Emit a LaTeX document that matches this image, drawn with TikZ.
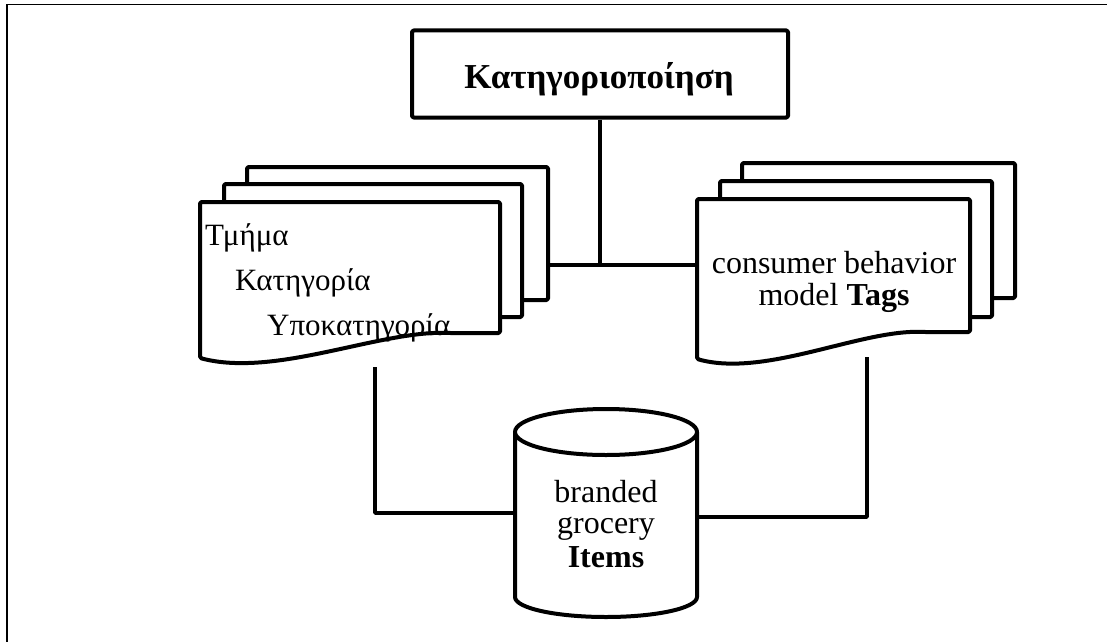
\documentclass[tikz,border=0pt]{standalone}
\usepackage{fontspec}
\setmainfont{Liberation Serif}
\begin{document}
\begin{tikzpicture}[x=1pt,y=-1pt,line join=round,
  shp/.style={line width=4pt,draw=black,fill=white,rounded corners=1.5pt},
  conn/.style={line width=3.5pt},
  txt/.style={font=\fontsize{31}{33}\selectfont,inner sep=0pt},
  etxt/.style={font=\fontsize{32}{34}\selectfont,inner sep=0pt}]
\useasboundingbox (0,0) rectangle (1107,642);
% frame
\draw[line width=2pt] (7,5) -- (7,642);
\draw[line width=1pt] (6,5) -- (1107,5);
% top box
\node[shp,minimum width=376pt,minimum height=87pt,inner sep=0pt] (top) at (600,74) {};
\node[inner sep=0pt,anchor=base,font=\bfseries\fontsize{35}{37}\selectfont] (title) at (599,88) {Κατηγοριοποίηση};
% coordinates for connectors
\coordinate (junc) at (600,265);
\coordinate (lstack) at (548,265);
\coordinate (rstack) at (697,265);
\coordinate (lbot) at (375,367);
\coordinate (rbot) at (867,357);
\coordinate (cylW) at (515,513);
\coordinate (cylE) at (697,517);
% connectors
\draw[conn] (top.south) -- (junc);
\draw[conn] (lstack) -- (rstack);
\draw[conn] (lbot) |- (cylW);
\draw[conn] (rbot) |- (cylE);
% left stack
\draw[shp] (247,167) rectangle (548,300);
\draw[shp] (224,184) rectangle (522,317);
\draw[shp] (200,202) -- (500,202) -- (500,333) -- (449,333)
  .. controls (380,330) and (275,378) .. (200,358) -- cycle;
% right stack
\draw[shp] (742,163) rectangle (1015,298);
\draw[shp] (720,181) rectangle (992,317);
\draw[shp] (697,199) -- (970,199) -- (970,332) -- (924,332)
  .. controls (861,329) and (765,378) .. (697,359) -- cycle;
% cylinder
\draw[shp,rounded corners=0pt] (515,432) -- (515,597)
  arc[start angle=180,end angle=0,x radius=91,y radius=20] -- (697,432);
\draw[shp,rounded corners=0pt] (606,432) ellipse [x radius=91,y radius=23];
% texts
\node[txt,anchor=base west] (t1) at (205,245) {Τμήμα};
\node[txt,anchor=base west] (t2) at (235,290) {Κατηγορία};
\node[txt,anchor=base west] (t3) at (267,335) {Υποκατηγορία};
\node[etxt,anchor=base] (r1) at (834,273) {consumer behavior};
\node[etxt,anchor=base] (r2) at (834,305) {model \textbf{Tags}};
\node[etxt,anchor=base] (c1) at (606,502) {branded};
\node[etxt,anchor=base] (c2) at (606,533) {grocery};
\node[etxt,anchor=base] (c3) at (606,567) {\textbf{Items}};
\end{tikzpicture}
\end{document}
